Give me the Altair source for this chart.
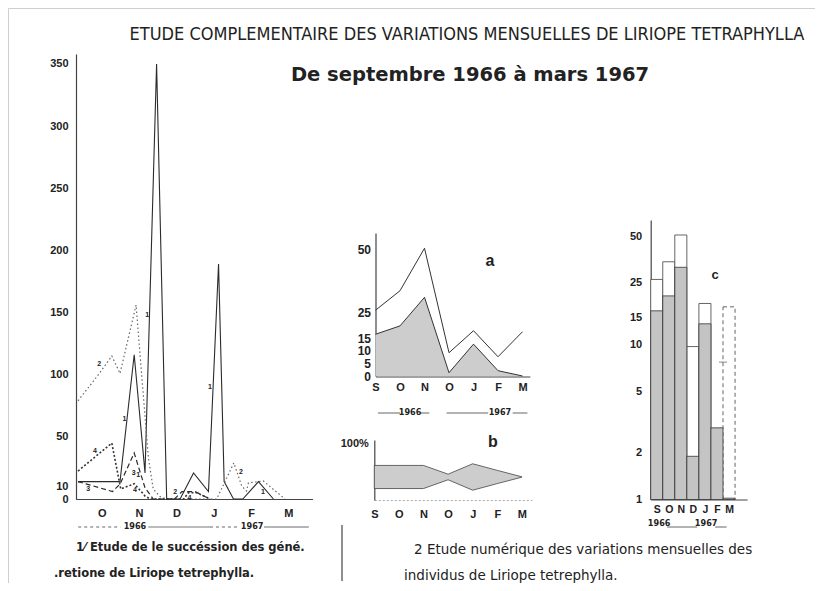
import altair as alt
import pandas as pd

# ---------------- data ----------------
MONTHS_1 = ["S", "O", "N", "D", "J", "F", "M"]
MONTHS_AB = ["S", "O", "N", "O", "J", "F", "M"]   # as printed on panels a and b
MONTHS_C = ["S", "O", "N", "D", "J", "F", "M"]

# Panel 1 : sampling dates (months after September) and numbers of each generation
s1_m = [0.365, 1.49, 1.87, 2.16, 2.47, 2.74, 3.10, 3.46, 3.86, 4.13, 4.28, 4.53, 4.78, 5.20, 5.60]
s1_v = [14, 14, 116, 21, 350, 0, 0, 21, 6, 189, 14, 0, 0, 14, 0]
s2_m = [0.365, 0.91, 1.27, 1.49, 1.92, 2.25, 2.38, 2.56, 2.74, 4.08, 4.54, 4.75, 4.88, 4.93, 5.33, 5.91]
s2_v = [79, 100, 115, 101, 156, 33, 8, 2, 0, 0, 29, 10.5, 6.4, 13, 14.5, 0]
s3_m = [0.365, 1.29, 1.49, 1.87, 2.16, 2.38, 2.95, 3.15, 3.50, 3.90]
s3_v = [14, 6, 12, 37, 9, 0, 0, 6, 6, 0]
s4_m = [0.365, 1.27, 1.51, 1.87, 2.16, 2.30, 3.20, 3.32, 3.55, 3.90]
s4_v = [22.5, 45, 8, 12.3, 2.4, 0, 0, 5, 5, 0]

lab_text = ["1", "1", "1", "1", "1", "2", "2", "2", "3", "3", "4", "4", "4"]
lab_m = [1.61, 2.22, 3.90, 5.32, 1.98, 0.93, 4.73, 2.97, 0.64, 1.86, 0.82, 1.89, 3.35]
lab_v = [64, 148, 90, 6, 19, 109, 22, 6, 8, 21, 39, 7, 1]

# Panel a : total individuals and shaded part
a_total = [26, 33.7, 50.5, 9.2, 17.9, 7.6, 17.5]
a_part = [16.5, 19.8, 31.1, 1.3, 12.6, 2.1, 0]

# Panel b : kite widths (%)
b_width = [70, 70, 70, 17, 80, 40, 1]

# Panel c : log bars
c_total = [26.3, 34.2, 50.9, 9.7, 18.4, 7.7, 17.5]
c_part = [16.5, 20.6, 31.5, 1.9, 13.6, 2.9, 1.02]

TITLE = "ETUDE COMPLEMENTAIRE DES VARIATIONS MENSUELLES DE LIRIOPE TETRAPHYLLA"
SUBTITLE = "De septembre 1966 à mars 1967"
CAP1 = ["1⁄ Etude de le succéssion des géné.", ".retione de Liriope tetrephylla."]
CAP2 = ["2  Etude numérique des variations mensuelles des", "individus de Liriope tetrephylla."]

# ---------------- layout helpers ----------------
W, H = 807, 575
FONT = "Liberation Sans"
WIDE = "DejaVu Sans"
NARROW = "Liberation Sans Narrow, DejaVu Sans Condensed, sans-serif"
INK = "#222222"


def P(v):
    return v - 8


def lin(domain, r0, r1):
    return alt.Scale(type="linear", domain=domain, range=[P(r0), P(r1)], nice=False, zero=False)


def yaxis(Xpos, values, pad, size=11, expr=None):
    kw = dict(orient="left", offset=-P(Xpos), values=values, ticks=False, tickSize=0,
              grid=False, labelFont=FONT, labelFontWeight="bold", labelFontSize=size,
              labelColor=INK, domainColor="#444444", domainWidth=1.2, labelPadding=pad,
              labelOverlap=False, title=None)
    if expr:
        kw["labelExpr"] = expr
    return alt.Axis(**kw)


def xaxis(Ypos, values, pad, expr, size=11, dcolor="#444444", ddash=None):
    kw = dict(orient="bottom", offset=P(Ypos) - H, values=values, ticks=False, tickSize=0,
              grid=False, labelFont=FONT, labelFontWeight="bold", labelFontSize=size,
              labelColor=INK, domainColor=dcolor, domainWidth=1, labelPadding=pad,
              labelOverlap=False, labelFlush=False, labelExpr=expr, title=None)
    if ddash:
        kw["domainDash"] = ddash
    return alt.Axis(**kw)


def txt(text, X, Y, size, weight="normal", font=FONT, align="center"):
    return alt.Chart(alt.Data(values=[{}])).mark_text(
        text=text, fontSize=size, fontWeight=weight, font=font, align=align,
        baseline="middle", color=INK).encode(x=alt.value(P(X)), y=alt.value(P(Y)))


layers = []

# ---------------- Panel 1 ----------------
X1 = lin([0.3, 6.65], 75.6, 312.6)
Y1 = lin([0, 358], 499, 54)
ax1y = yaxis(76, [0, 10, 50, 100, 150, 200, 250, 300, 350], 8)
ax1x = xaxis(499, [1, 2, 3, 4, 5, 6], 8, "['S','O','N','D','J','F','M'][datum.value]")

styles = [
    (s1_m, s1_v, dict(color="#2b2b2b", strokeWidth=1.1)),
    (s2_m, s2_v, dict(color="#666666", strokeWidth=1.2, strokeDash=[1.5, 2.5])),
    (s3_m, s3_v, dict(color="#2b2b2b", strokeWidth=1.2, strokeDash=[5, 3])),
    (s4_m, s4_v, dict(color="#333333", strokeWidth=1.6, strokeDash=[2, 2])),
]
for k, (ms, vs, st) in enumerate(styles):
    df = pd.DataFrame({"m": ms, "v": vs, "i": range(len(ms))})
    first = k == 0
    layers.append(
        alt.Chart(df).mark_line(**st).encode(
            x=alt.X("m:Q", scale=X1, axis=ax1x if first else None),
            y=alt.Y("v:Q", scale=Y1, axis=ax1y if first else None),
            order=alt.Order("i:Q"),
        )
    )

labdf = pd.DataFrame({"m": lab_m, "v": lab_v, "t": lab_text})
layers.append(
    alt.Chart(labdf).mark_text(fontSize=7, fontWeight="bold", font=FONT, color=INK).encode(
        x=alt.X("m:Q", scale=X1, axis=None), y=alt.Y("v:Q", scale=Y1, axis=None), text="t:N")
)

# year span under panel 1
yr1 = pd.DataFrame({"a": [0.37, 2.25, 3.9, 5.35], "b": [1.5, 3.9, 4.7, 6.55],
                    "d": ["dot", "solid", "dot", "solid"]})
layers.append(
    alt.Chart(yr1).mark_rule(color="#555555", strokeWidth=0.9).encode(
        x=alt.X("a:Q", scale=X1, axis=None), x2="b:Q", y=alt.value(P(527)),
        strokeDash=alt.StrokeDash("d:N", scale=alt.Scale(domain=["dot", "solid"], range=[[3, 3], [1, 0]]), legend=None))
)
yt1 = pd.DataFrame({"m": [1.89, 5.03], "t": ["1966", "1967"]})
layers.append(
    alt.Chart(yt1).mark_text(fontSize=9, fontWeight="bold", font=NARROW, color=INK).encode(
        x=alt.X("m:Q", scale=X1, axis=None), y=alt.value(P(526)), text="t:N")
)

# ---------------- Panel a ----------------
XA = lin([0, 6.3], 375.5, 375.5 + 6.3 * 24.5)
YA = lin([0, 56.5], 376, 376 - 56.5 * 2.53)
dfa = pd.DataFrame({"i": range(7), "tot": a_total, "part": a_part})
axay = yaxis(375.5, [0, 5, 10, 15, 25, 50], 5, size=12)
axax = xaxis(376.5, list(range(7)), 5, "['S','O','N','O','J','F','M'][datum.value]")
layers.append(
    alt.Chart(dfa).mark_area(color="#cdcdcd", opacity=1).encode(
        x=alt.X("i:Q", scale=XA, axis=axax), y=alt.Y("part:Q", scale=YA, axis=axay))
)
layers.append(
    alt.Chart(dfa).mark_line(color="#333333", strokeWidth=1).encode(
        x=alt.X("i:Q", scale=XA, axis=None), y=alt.Y("part:Q", scale=YA, axis=None))
)
layers.append(
    alt.Chart(dfa).mark_line(color="#333333", strokeWidth=1).encode(
        x=alt.X("i:Q", scale=XA, axis=None), y=alt.Y("tot:Q", scale=YA, axis=None))
)
yra = pd.DataFrame({"a": [0.1, 1.85, 2.9, 5.6], "b": [1.0, 2.2, 4.6, 6.2]})
layers.append(
    alt.Chart(yra).mark_rule(color="#555555", strokeWidth=0.9).encode(
        x=alt.X("a:Q", scale=XA, axis=None), x2="b:Q", y=alt.value(P(413)))
)
yta = pd.DataFrame({"i": [1.41, 5.08], "t": ["1966", "1967"]})
layers.append(
    alt.Chart(yta).mark_text(fontSize=9, fontWeight="bold", font=NARROW, color=INK).encode(
        x=alt.X("i:Q", scale=XA, axis=None), y=alt.value(P(412)), text="t:N")
)

# ---------------- Panel b ----------------
XB = lin([0, 6.4], 374.3, 374.3 + 6.4 * 24.6)
YB = lin([-70, 112], 500.1, 440)
dfb = pd.DataFrame({"i": range(7), "w": b_width})
dfb["hi"] = dfb["w"] / 2
dfb["lo"] = -dfb["w"] / 2
axby = yaxis(374.3, [100], 6, size=11, expr="'100%'")
axbx = xaxis(500, list(range(7)), 8, "['S','O','N','O','J','F','M'][datum.value]",
             dcolor="#aaaaaa", ddash=[2, 2])
layers.append(
    alt.Chart(dfb).mark_area(color="#cdcdcd", opacity=1, stroke="#444444", strokeWidth=0.8).encode(
        x=alt.X("i:Q", scale=XB, axis=axbx), y=alt.Y("hi:Q", scale=YB, axis=axby), y2="lo:Q")
)

# ---------------- Panel c ----------------
XC = lin([0, 8], 650.7, 650.7 + 8 * 12.05)
YC = alt.Scale(type="log", domain=[1, 63.6], range=[P(499.5), P(220)], nice=False, zero=False)
dfc = pd.DataFrame({"i": range(7), "tot": c_total, "part": c_part})
dfc["x0"] = dfc["i"]
dfc["x1"] = dfc["i"] + 1
dfc["xc"] = dfc["i"] + 0.5
dfc["base"] = 1.0
axcy = yaxis(650.7, [1, 2, 5, 10, 15, 25, 50], 9)
axcx = xaxis(499.5, [0.5, 1.5, 2.5, 3.5, 4.5, 5.5, 6.5], 5,
             "['S','O','N','D','J','F','M'][floor(datum.value)]", size=10.5)
layers.append(
    alt.Chart(dfc).transform_filter("datum.i < 5").mark_rect(fill="white", stroke="#555555", strokeWidth=0.9).encode(
        x=alt.X("x0:Q", scale=XC, axis=axcx), x2="x1:Q",
        y=alt.Y("tot:Q", scale=YC, axis=axcy), y2="base:Q")
)
layers.append(
    alt.Chart(dfc).transform_filter("datum.i == 6").mark_rect(fill="white", stroke="#555555", strokeWidth=0.9,
                                                              strokeDash=[4, 3]).encode(
        x=alt.X("x0:Q", scale=XC, axis=None), x2="x1:Q",
        y=alt.Y("tot:Q", scale=YC, axis=None), y2="base:Q")
)
layers.append(
    alt.Chart(dfc).transform_filter("datum.i == 5").mark_tick(color="#555555", thickness=1, size=8, orient="horizontal").encode(
        x=alt.X("x1:Q", scale=XC, axis=None), y=alt.Y("tot:Q", scale=YC, axis=None))
)
layers.append(
    alt.Chart(dfc).mark_rect(fill="#c4c4c4", stroke="#333333", strokeWidth=0.8).encode(
        x=alt.X("x0:Q", scale=XC, axis=None), x2="x1:Q",
        y=alt.Y("part:Q", scale=YC, axis=None), y2="base:Q")
)
yrc = pd.DataFrame({"a": [1.36, 5.35], "b": [3.85, 6.3]})
layers.append(
    alt.Chart(yrc).mark_rule(color="#555555", strokeWidth=0.9).encode(
        x=alt.X("a:Q", scale=XC, axis=None), x2="b:Q", y=alt.value(P(527)))
)
ytc = pd.DataFrame({"i": [0.7, 4.6], "t": ["1966", "1967"]})
layers.append(
    alt.Chart(ytc).mark_text(fontSize=9, fontWeight="bold", font=NARROW, color=INK).encode(
        x=alt.X("i:Q", scale=XC, axis=None), y=alt.value(P(523)), text="t:N")
)

# ---------------- texts ----------------
layers.append(txt(TITLE, 467, 35, 18, "normal", NARROW))
layers.append(txt(SUBTITLE, 470, 75, 19.5, "bold", WIDE))
layers.append(txt("a", 490, 261, 16, "bold"))
layers.append(txt("b", 493, 442, 16, "bold"))
layers.append(txt("c", 715, 275, 13, "bold"))
layers.append(txt(CAP1[0], 76, 548, 11.5, "bold", WIDE, align="left"))
layers.append(txt(CAP1[1], 54, 574, 11.5, "bold", WIDE, align="left"))
layers.append(txt(CAP2[0], 414, 550, 13.5, "normal", WIDE, align="left"))
layers.append(txt(CAP2[1], 404, 576, 13.5, "normal", WIDE, align="left"))
layers.append(
    alt.Chart(alt.Data(values=[{}])).mark_rule(color="#444444", strokeWidth=1.2).encode(
        x=alt.value(P(342)), y=alt.value(P(525)), y2=alt.value(P(581)))
)

chart = (
    alt.layer(*layers)
    .resolve_scale(x="independent", y="independent", strokeDash="independent")
    .properties(width=W, height=H, autosize=alt.AutoSizeParams(type="none"), padding=0,
                background="white")
    .configure_view(stroke="#cfcfcf", strokeWidth=1)
)

chart.save("out.html", embed_options={"renderer": "svg", "actions": False})
